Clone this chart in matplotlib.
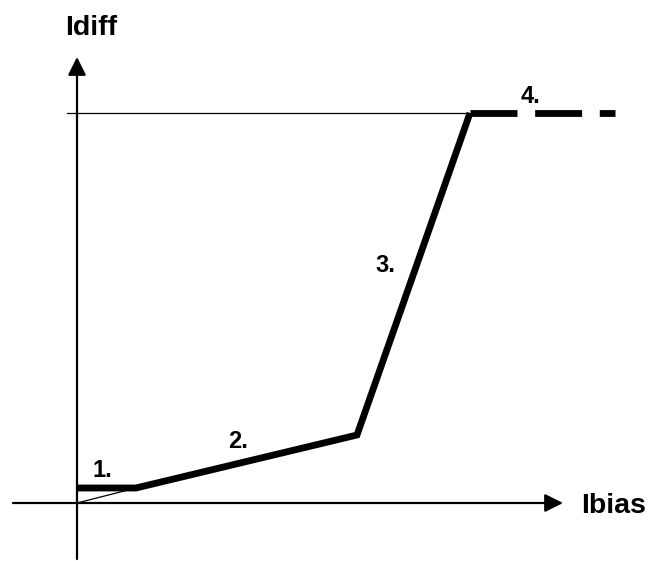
import matplotlib
matplotlib.use("Agg")
import matplotlib.pyplot as plt

# ---- data (arbitrary units, origin at axes intersection) ----
ibias_pts = [0.0, 0.59, 2.80, 3.93]      # breakpoints of the characteristic
idiff_pts = [0.15, 0.15, 0.68, 3.90]
ibias_sat = [3.93, 5.38]                  # segment 4 (dashed)
idiff_sat = [3.90, 3.90]
slope_ref_x = [0.0, 0.59]                 # thin reference line through origin
slope_ref_y = [0.0, 0.15]
seg_labels = ["1.", "2.", "3.", "4."]
x_label = "Ibias"
y_label = "Idiff"

# ---- layout ----
seg_label_pos = [(0.15, 0.26), (1.51, 0.55), (2.98, 2.31), (4.44, 4.00)]
W, H, DPI = 6.5, 5.61, 100

plt.rcParams['font.family'] = ['Liberation Sans', 'DejaVu Sans']

fig = plt.figure(figsize=(W, H), dpi=DPI)
ax = fig.add_axes([0, 0, 1, 1])
ax.set_xlim(-0.77, 5.73)
ax.set_ylim(-0.58, 5.03)
ax.axis('off')

# axes with arrows
arrow_style = '-|>,head_length=1.1,head_width=0.55'
ax.annotate('', xy=(4.86, 0), xytext=(-0.64, 0),
            arrowprops=dict(arrowstyle=arrow_style, color='black', lw=1.6,
                            shrinkA=0, shrinkB=0, mutation_scale=10))
ax.annotate('', xy=(0, 4.46), xytext=(0, -0.56),
            arrowprops=dict(arrowstyle=arrow_style, color='black', lw=1.6,
                            shrinkA=0, shrinkB=0, mutation_scale=10))

# thin reference lines
ax.plot([-0.10, ibias_sat[0]], [idiff_sat[0], idiff_sat[0]], color='black', lw=0.9)
ax.plot(slope_ref_x, slope_ref_y, color='black', lw=0.9)

# thick characteristic
ax.plot(ibias_pts, idiff_pts, color='black', lw=4.9,
        solid_joinstyle='miter', solid_capstyle='butt')
ax.plot(ibias_sat, idiff_sat, color='black', lw=4.9,
        linestyle=(0, (6.9, 2.6)), dash_capstyle='butt')

# labels
for txt, (x, y) in zip(seg_labels, seg_label_pos):
    ax.text(x, y, txt, fontsize=17, fontweight='bold', ha='left', va='baseline')
ax.text(5.04, -0.10, x_label, fontsize=20.5, fontweight='bold', ha='left', va='baseline')
ax.text(-0.12, 4.68, y_label, fontsize=20.5, fontweight='bold', ha='left', va='baseline')

fig.savefig('out.png', dpi=DPI, facecolor='white')
